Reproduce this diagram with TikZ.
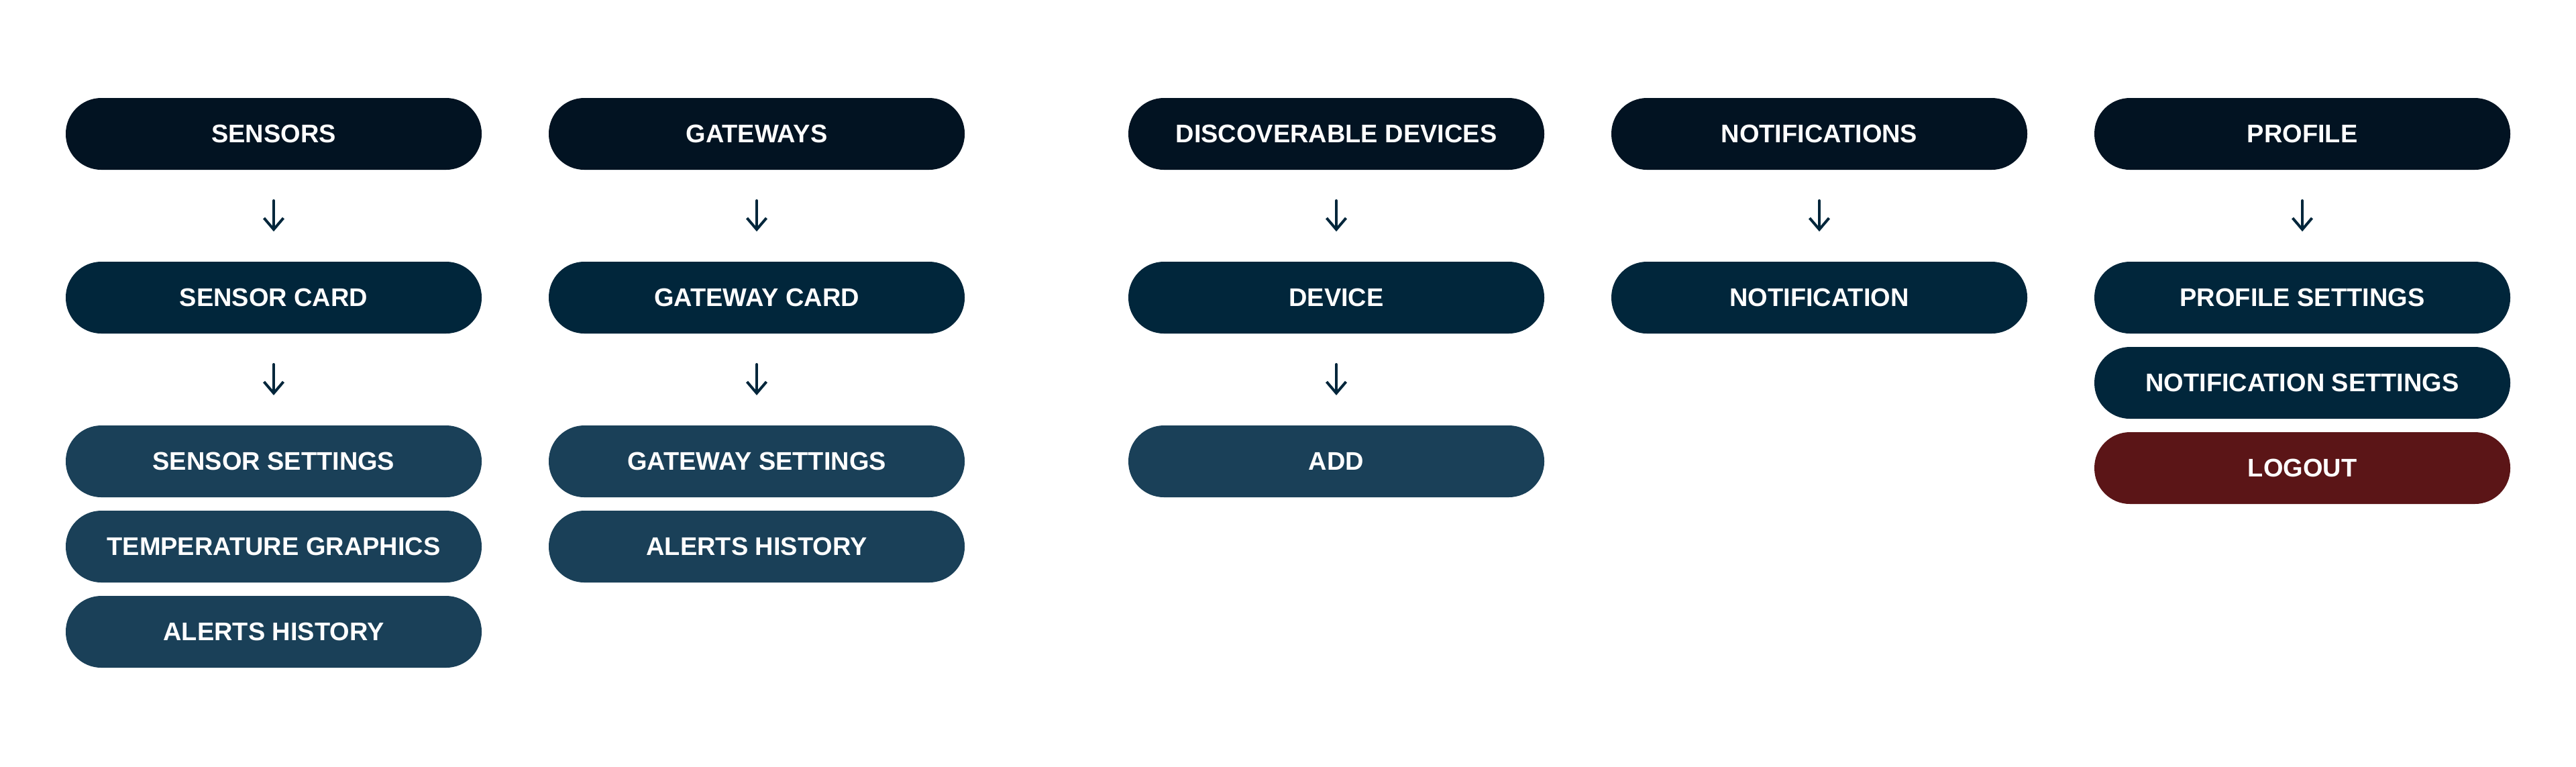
\documentclass[tikz,border=0pt]{standalone}
\usepackage{fontspec}
\setmainfont{Liberation Sans}
\usepackage{xcolor}
\definecolor{colorTitle}{HTML}{021322}
\definecolor{colorCard}{HTML}{01263B}
\definecolor{colorDetail}{HTML}{1A4058}
\definecolor{colorLogout}{HTML}{5B1517}
\colorlet{colorArrow}{colorCard}
\usetikzlibrary{arrows.meta, positioning}
\tikzset{pill/.style={rectangle, rounded corners=0.53cm, minimum width=6.2cm, minimum height=1.07cm, inner sep=0pt, outer sep=0pt, text=white, font=\fontsize{10.8}{13}\selectfont\bfseries}}

\begin{document}
\begin{tikzpicture}[>={Straight Barb[length=1.7mm, width=2.9mm]}, line width=0.04cm, node distance=1.37cm and 1cm, flow/.style={->, colorArrow, line cap=round, shorten <=0.46cm, shorten >=0.45cm}]
\useasboundingbox (0,0) rectangle (38.4,-11.42);
% top row
\node[pill, fill=colorTitle] (s0) at (4.08,-1.995) {SENSORS};
\node[pill, fill=colorTitle, right=of s0] (g0) {GATEWAYS};
\node[pill, fill=colorTitle, right=2.44cm of g0] (d0) {DISCOVERABLE DEVICES};
\node[pill, fill=colorTitle, right=of d0] (n0) {NOTIFICATIONS};
\node[pill, fill=colorTitle, right=of n0] (p0) {PROFILE};
% cards
\node[pill, fill=colorCard, below=of s0] (s1) {SENSOR CARD};
\node[pill, fill=colorCard, below=of g0] (g1) {GATEWAY CARD};
\node[pill, fill=colorCard, below=of d0] (d1) {DEVICE};
\node[pill, fill=colorCard, below=of n0] (n1) {NOTIFICATION};
\node[pill, fill=colorCard, below=of p0] (p1) {PROFILE SETTINGS};
\node[pill, fill=colorCard, below=0.2cm of p1] (p2) {NOTIFICATION SETTINGS};
\node[pill, fill=colorLogout, below=0.2cm of p2] (p3) {LOGOUT};
% details
\node[pill, fill=colorDetail, below=of s1] (s2) {SENSOR SETTINGS};
\node[pill, fill=colorDetail, below=0.2cm of s2] (s3) {TEMPERATURE GRAPHICS};
\node[pill, fill=colorDetail, below=0.2cm of s3] (s4) {ALERTS HISTORY};
\node[pill, fill=colorDetail, below=of g1] (g2) {GATEWAY SETTINGS};
\node[pill, fill=colorDetail, below=0.2cm of g2] (g3) {ALERTS HISTORY};
\node[pill, fill=colorDetail, below=of d1] (d2) {ADD};
% arrows
\draw [flow] (s0) -- (s1);
\draw [flow] (s1) -- (s2);
\draw [flow] (g0) -- (g1);
\draw [flow] (g1) -- (g2);
\draw [flow] (d0) -- (d1);
\draw [flow] (d1) -- (d2);
\draw [flow] (n0) -- (n1);
\draw [flow] (p0) -- (p1);
\end{tikzpicture}
\end{document}
